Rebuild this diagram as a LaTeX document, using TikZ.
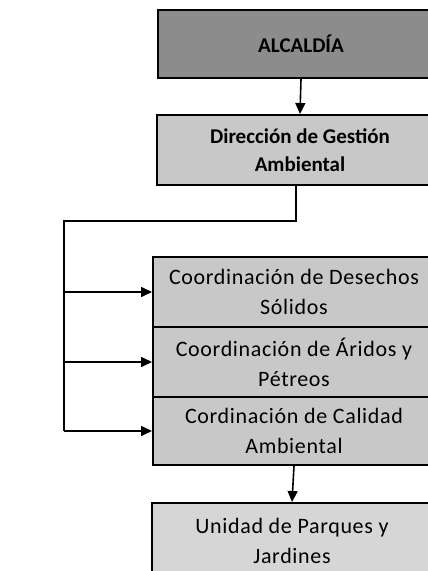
\documentclass[tikz,border=0pt]{standalone}
\usepackage{fontspec}
\setmainfont{Carlito}
\newfontfamily\spaced[LetterSpace=3]{Carlito}
\usetikzlibrary{arrows.meta}
\definecolor{darkbox}{RGB}{140,140,140}
\definecolor{lightbox}{RGB}{200,200,200}
\definecolor{paleboxc}{RGB}{214,214,214}
\tikzset{
  box/.style={draw=black, line width=2pt, rectangle, align=center, inner sep=2pt},
  boldtxt/.style={font=\fontsize{21}{28}\selectfont\bfseries},
  regtxt/.style={font=\fontsize{22}{30}\selectfont\spaced},
  conn/.style={draw=black, line width=1.6pt},
  arr/.style={conn, -{Triangle[length=11pt,width=10pt]}}
}
\begin{document}
\begin{tikzpicture}[x=1pt,y=-1pt]
\useasboundingbox (0,0) rectangle (428,571);
\clip (0,0) rectangle (428,571);
\fill[white] (0,0) rectangle (428,571);
% boxes
\node[box, boldtxt, fill=darkbox, minimum width=286, minimum height=68] (alc) at (301,44) {ALCALDÍA};
\node[box, boldtxt, fill=lightbox, minimum width=286, minimum height=70] (dir) at (300,150) {Dirección de Gestión\\Ambiental};
\node[box, regtxt, fill=lightbox, minimum width=282, minimum height=70] (c1) at (294,292) {Coordinación de Desechos\\Sólidos};
\node[box, regtxt, fill=lightbox, minimum width=282, minimum height=70] (c2) at (294,362) {Coordinación de Áridos y\\Pétreos};
\node[box, regtxt, fill=lightbox, minimum width=282, minimum height=68] (c3) at (294,431) {Cordinación de Calidad\\Ambiental};
\node[box, regtxt, fill=paleboxc, minimum width=280, minimum height=76] (uni) at (292,541) {Unidad de Parques y\\Jardines};
% connectors
\coordinate (j) at (64,221);
\draw[arr] (alc.south) -- (dir.north);
\draw[conn] ([xshift=-4pt]dir.south) |- (j) -- (j |- c3.west);
\draw[arr] (j |- c1.west) -- (c1.west);
\draw[arr] (j |- c2.west) -- (c2.west);
\draw[arr] (j |- c3.west) -- (c3.west);
\draw[arr] (c3.south) -- (uni.north);
\end{tikzpicture}
\end{document}
